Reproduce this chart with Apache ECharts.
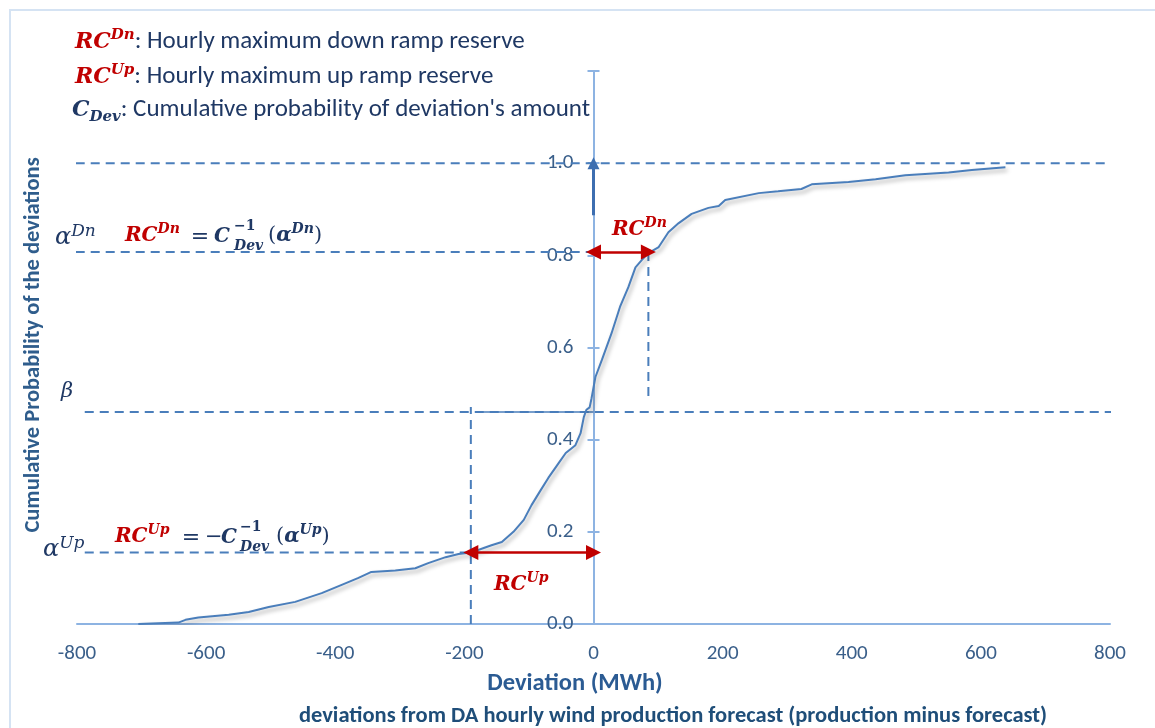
<!DOCTYPE html>
<html><head><meta charset="utf-8">
<script src="https://cdn.jsdelivr.net/npm/echarts@6/dist/echarts.min.js"></script>
<style>html,body{margin:0;padding:0;background:#fff}#c{width:1155px;height:728px}</style>
</head><body><div id="c"></div>
<script>
// ---- data ----
const xTicks = [-800, -600, -400, -200, 0, 200, 400, 600, 800];
const yTicks = [0.0, 0.2, 0.4, 0.6, 0.8, 1.0];
const devX = [-705,-643,-632,-612,-565,-534,-503,-462,-421,-390,-364,-344,-307,-276,-256,-229,-209,-190,-170,-158,-142,-124,-108,-96,-82,-70,-54,-43,-28,-20,-15,-11,-6,-3,3,13,28,41,54,65,75,85,101,116,132,152,178,194,204,256,286,322,338,395,437,483,550,586,638];
const cumP = [0,0.003,0.009,0.014,0.02,0.026,0.037,0.048,0.067,0.085,0.1,0.113,0.116,0.121,0.132,0.145,0.152,0.155,0.165,0.171,0.178,0.2,0.226,0.258,0.29,0.317,0.349,0.371,0.388,0.414,0.449,0.465,0.47,0.49,0.536,0.573,0.631,0.688,0.731,0.774,0.79,0.805,0.818,0.85,0.87,0.89,0.903,0.907,0.92,0.935,0.939,0.944,0.954,0.959,0.965,0.974,0.98,0.985,0.991];
const alphaUp = 0.155;
const alphaDn = 0.807;
const beta = 0.46;
const rcUpX = -190;
const rcDnX = 85;
const probOne = 1.0;

// ---- styles ----
const F_SANS = "Carlito, Lato, 'Open Sans', sans-serif";
const F_MATH = "'DejaVu Serif', 'Liberation Serif', serif";
const NAVY = '#1f3864';
const RED = '#c00000';
const BLUE = '#4a7ebb';
const AXIS = '#8db3e2';
const TICKC = '#3a5f8a';

const W = 1155, GL = 77, GR = 45, GT = 71, GB = 104;
const xMin = xTicks[0], xMax = xTicks[xTicks.length - 1];
// shift the value axis so it sits at deviation 0
const yAxisOffset = -(W - GL - GR) * (0 - xMin) / (xMax - xMin);

const chart = echarts.init(document.getElementById('c'), null, {renderer: 'canvas'});

function dashed(points, extra) {
  return Object.assign({
    type: 'line', data: points, symbol: 'none', clip: false, silent: true, z: 2,
    lineStyle: {color: BLUE, width: 2, type: [9, 6]}
  }, extra || {});
}

function T(x, y, text, style, align, rot) {
  const a = align || 'left';
  const el = {type: 'text', x: x, y: y, silent: true, z: 100,
    style: Object.assign({text: text, align: a, textAlign: a, verticalAlign: 'middle', textVerticalAlign: 'middle'}, style)};
  if (rot) el.rotation = rot;
  return el;
}
const mRB = (s) => ({fontFamily: F_MATH, fontStyle: 'italic', fontWeight: 'bold', fontSize: s, fill: RED});
const mNB = (s) => ({fontFamily: F_MATH, fontStyle: 'italic', fontWeight: 'bold', fontSize: s, fill: NAVY});
const mNI = (s) => ({fontFamily: F_MATH, fontStyle: 'italic', fontWeight: 'normal', fontSize: s, fill: NAVY});
const mN = (s) => ({fontFamily: F_MATH, fontStyle: 'normal', fontWeight: 'normal', fontSize: s, fill: NAVY});

const rich = {
  r: Object.assign(mRB(20), {lineHeight: 27}),
  rs: Object.assign(mRB(14), {lineHeight: 15, verticalAlign: 'top'}),
  R: Object.assign(mRB(22), {lineHeight: 29}),
  Rs: Object.assign(mRB(15), {lineHeight: 16, verticalAlign: 'top'}),
  c: Object.assign(mNB(22), {lineHeight: 29}),
  cs: Object.assign(mNB(15), {lineHeight: 16, verticalAlign: 'bottom'}),
  t: {fontFamily: F_SANS, fontSize: 25, fill: NAVY, lineHeight: 29},
  n: Object.assign(mN(21), {lineHeight: 27}),
  ab: Object.assign(mNB(20), {lineHeight: 27}),
  abs: Object.assign(mNB(14), {lineHeight: 15, verticalAlign: 'top'}),
  a: Object.assign(mNI(24), {lineHeight: 30}),
  as: Object.assign(mNI(17), {lineHeight: 18, verticalAlign: 'top'})
};
const RT = (x, y, text) => T(x, y, text, {rich: rich});

const graphics = [
  {type: 'rect', silent: true, z: 0, shape: {x: 10, y: 10, width: 1300, height: 900},
   style: {fill: 'none', stroke: '#d5e3f3', lineWidth: 2}},
  // notes
  RT(75, 42, '{R|RC}{Rs|Dn}{t|: Hourly maximum down ramp reserve}'),
  RT(75, 77, '{R|RC}{Rs|Up}{t|: Hourly maximum up ramp reserve}'),
  RT(72, 110, '{c|C}{cs|Dev}{t|: Cumulative probability of deviation\'s amount}'),
  // alpha Dn formula
  RT(55, 238, '{a|α}{as|Dn}'),
  RT(125, 236, '{r|RC}{rs|Dn}'),
  T(200, 237, '=', mN(22), 'center'),
  T(214, 237, 'C', mNB(20)),
  T(234, 226, '−1', {fontFamily: F_MATH, fontWeight: 'bold', fontSize: 14, fill: NAVY}),
  T(234, 246, 'Dev', mNB(14)),
  RT(268, 236, '{n|(}{ab|α}{abs|Dn}{n|)}'),
  // beta
  T(61, 392, 'β', mNI(21)),
  // alpha Up formula
  RT(43, 550, '{a|α}{as|Up}'),
  RT(115, 537, '{r|RC}{rs|Up}'),
  T(191, 538, '=', mN(22), 'center'),
  T(205, 538, '−', mN(21)),
  T(221, 538, 'C', mNB(20)),
  T(240, 527, '−1', {fontFamily: F_MATH, fontWeight: 'bold', fontSize: 14, fill: NAVY}),
  T(240, 547, 'Dev', mNB(14)),
  RT(276, 537, '{n|(}{ab|α}{abs|Up}{n|)}'),
  // arrow labels
  RT(612, 230, '{r|RC}{rs|Dn}'),
  RT(494, 585, '{r|RC}{rs|Up}'),
  // axis names
  T(33, 345, 'Cumulative Probability of the deviations', {fontFamily: F_SANS, fontWeight: 'bold', fontSize: 22.5, fill: '#2f5d8c'}, 'center', Math.PI / 2),
  T(575, 684, 'Deviation (MWh)', {fontFamily: F_SANS, fontWeight: 'bold', fontSize: 24.5, fill: '#2b5b93'}, 'center'),
  T(673, 716, 'deviations from DA hourly wind production forecast (production minus forecast)', {fontFamily: F_SANS, fontWeight: 'bold', fontSize: 22.5, fill: '#1f4e79'}, 'center')
];

const yBase = {
  type: 'value', min: 0, max: 1.2, interval: 0.2, position: 'left', offset: yAxisOffset,
  splitLine: {show: false}
};

const option = {
  animation: false,
  backgroundColor: '#ffffff',
  grid: {left: GL, right: GR, top: GT, bottom: GB, containLabel: false, outerBoundsMode: 'none'},
  xAxis: {
    type: 'value', min: xMin, max: xMax, interval: 200,
    axisLine: {show: true, onZero: false, lineStyle: {color: AXIS, width: 2}},
    axisTick: {show: false},
    axisLabel: {color: TICKC, fontSize: 21, fontFamily: F_SANS, margin: 19},
    splitLine: {show: false}
  },
  yAxis: [
    Object.assign({}, yBase, {
      axisLine: {show: true, onZero: false, lineStyle: {color: AXIS, width: 2}},
      axisTick: {show: true, length: 6, lineStyle: {color: AXIS, width: 2}},
      axisLabel: {color: TICKC, fontSize: 21, fontFamily: F_SANS, margin: 20,
        formatter: (v) => (v > yTicks[yTicks.length - 1] + 1e-6 ? '' : v.toFixed(1))}
    }),
    Object.assign({}, yBase, {
      axisLine: {show: false},
      axisTick: {show: true, inside: true, length: 6, lineStyle: {color: AXIS, width: 2}},
      axisLabel: {show: false}
    })
  ],
  series: [
    dashed([[-802, probOne], [795, probOne]]),
    dashed([[-802, alphaDn], [0, alphaDn]]),
    dashed([[-788, beta], [824, beta]]),
    dashed([[-788, alphaUp], [rcUpX, alphaUp]]),
    dashed([[rcUpX, 0], [rcUpX, 0.471]]),
    dashed([[rcDnX, alphaDn], [rcDnX, 0.49]]),
    {type: 'line', data: [[-181, beta], [0, beta]], symbol: 'none', silent: true, z: 3,
     lineStyle: {color: BLUE, width: 1.5}},
    {type: 'line', name: 'C_Dev', data: devX.map((x, i) => [x, cumP[i]]), symbol: 'none', z: 5,
     lineStyle: {color: BLUE, width: 2, shadowColor: 'rgba(0,0,0,0.35)', shadowBlur: 4, shadowOffsetX: 2, shadowOffsetY: 3}},
    {type: 'lines', coordinateSystem: 'cartesian2d', silent: true, z: 6,
     symbol: ['triangle', 'triangle'], symbolSize: 15,
     lineStyle: {color: RED, width: 2.5, opacity: 1, curveness: 0},
     data: [{coords: [[0, alphaDn], [rcDnX, alphaDn]]}, {coords: [[rcUpX, alphaUp], [0, alphaUp]]}]},
    {type: 'lines', coordinateSystem: 'cartesian2d', silent: true, z: 6,
     symbol: ['none', 'triangle'], symbolSize: 12,
     lineStyle: {color: '#3d6eb0', width: 3, opacity: 1, curveness: 0},
     data: [{coords: [[0, 0.887], [0, probOne]]}]}
  ],
  graphic: graphics
};
chart.setOption(option);
</script>
</body></html>
